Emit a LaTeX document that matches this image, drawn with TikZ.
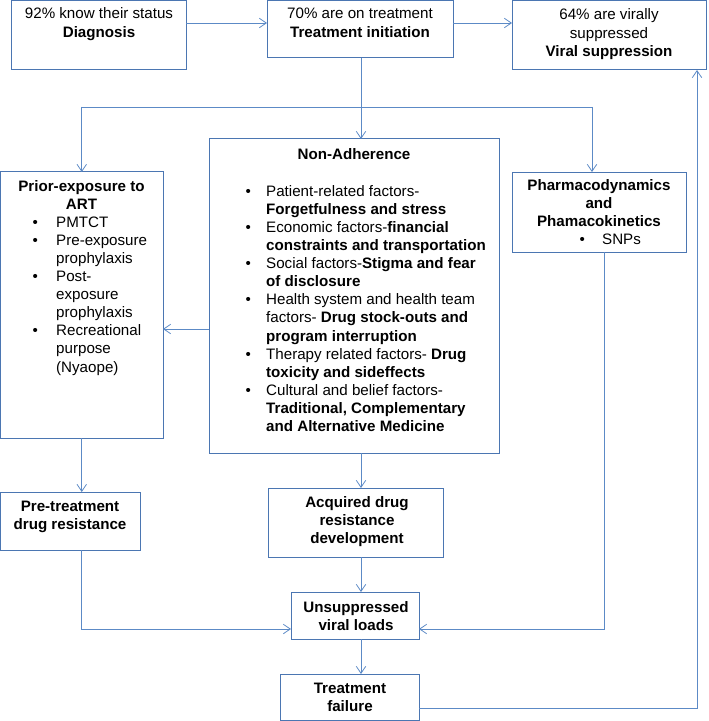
\documentclass[tikz,border=0pt]{standalone}
\usepackage{fontspec}
\setmainfont{Liberation Sans}
\usetikzlibrary{arrows.meta}
\definecolor{lb}{RGB}{92,138,198}
\definecolor{bb}{RGB}{75,118,178}
\newcommand{\bl}{\textbullet}
\begin{document}
\begin{tikzpicture}[x=1bp,y=-1bp,
  box/.style={draw=bb, line width=1bp, inner sep=0pt, outer sep=0pt, rectangle},
  txt/.style={font=\fontsize{15.2}{18.2}\selectfont, inner sep=0pt, anchor=base},
  ln/.style={draw=lb, line width=0.8bp},
  arr/.style={draw=lb, line width=0.8bp, -{Straight Barb[length=7bp,width=9.5bp]}}]
\useasboundingbox (0,0) rectangle (709,721);
% boxes
\node[box, minimum width=174bp, minimum height=69.5bp] (diag) at (99,35.25) {};
\node[box, minimum width=186bp, minimum height=57.5bp] (treat) at (360,29.25) {};
\node[box, minimum width=194bp, minimum height=69.5bp] (viral) at (609,35.25) {};
\node[box, minimum width=162.5bp, minimum height=266bp] (prior) at (81.75,305) {};
\node[box, minimum width=290bp, minimum height=314bp] (nonadh) at (354,296) {};
\node[box, minimum width=174bp, minimum height=80bp] (pharma) at (599,212) {};
\node[box, minimum width=139.5bp, minimum height=58bp] (pretreat) at (70.25,521) {};
\node[box, minimum width=175bp, minimum height=69bp] (acq) at (355.5,522.5) {};
\node[box, minimum width=128bp, minimum height=47bp] (unsup) at (355,615.5) {};
\node[box, minimum width=139bp, minimum height=46bp] (fail) at (349.5,697) {};
% texts
\node[txt] (tdiag) at (99,19) {\begin{tabular}[t]{@{}c@{}}92\% know their status\\\textbf{Diagnosis}\end{tabular}};
\node[txt] (ttreat) at (360,19) {\begin{tabular}[t]{@{}c@{}}70\% are on treatment\\\textbf{Treatment initiation}\end{tabular}};
\node[txt] (tviral) at (609,20) {\begin{tabular}[t]{@{}c@{}}64\% are virally\\suppressed\\\textbf{Viral suppression}\end{tabular}};
\node[txt] (tprior) at (81.5,191) {\begin{tabular}[t]{@{}c@{}}\textbf{Prior-exposure to}\\\textbf{ART}\end{tabular}};
\node[txt, anchor=base west] (lprior) at (32.5,227) {\begin{tabular}[t]{@{}p{23.5bp}@{}l@{}}
\bl & PMTCT\\
\bl & Pre-exposure\\
 & prophylaxis\\
\bl & Post-\\
 & exposure\\
 & prophylaxis\\
\bl & Recreational\\
 & purpose\\
 & (Nyaope)
\end{tabular}};
\node[txt] (tnon) at (354,159) {\textbf{Non-Adherence}};
\node[txt, anchor=base west] (lnon) at (245.5,196) {\begin{tabular}[t]{@{}p{20.5bp}@{}l@{}}
\bl & Patient-related factors-\\
 & \textbf{Forgetfulness and stress}\\
\bl & Economic factors-\textbf{financial}\\
 & \textbf{constraints and transportation}\\
\bl & Social factors-\textbf{Stigma and fear}\\
 & \textbf{of disclosure}\\
\bl & Health system and health team\\
 & factors- \textbf{Drug stock-outs and}\\
 & \textbf{program interruption}\\
\bl & Therapy related factors- \textbf{Drug}\\
 & \textbf{toxicity and sideffects}\\
\bl & Cultural and belief factors-\\
 & \textbf{Traditional, Complementary}\\
 & \textbf{and Alternative Medicine}
\end{tabular}};
\node[txt] (tpharma) at (599,190) {\begin{tabular}[t]{@{}c@{}}\textbf{Pharmacodynamics}\\\textbf{and}\\\textbf{Phamacokinetics}\end{tabular}};
\node[txt, anchor=base west] (lpharma) at (579.5,244.6) {\begin{tabular}[t]{@{}p{22.5bp}@{}l@{}}\bl & SNPs\end{tabular}};
\node[txt] (tpre) at (70,511) {\begin{tabular}[t]{@{}c@{}}\textbf{Pre-treatment}\\\textbf{drug resistance}\end{tabular}};
\node[txt] (tacq) at (357,507) {\begin{tabular}[t]{@{}c@{}}\textbf{Acquired drug}\\\textbf{resistance}\\\textbf{development}\end{tabular}};
\node[txt] (tuns) at (356,612) {\begin{tabular}[t]{@{}c@{}}\textbf{Unsuppressed}\\\textbf{viral loads}\end{tabular}};
\node[txt] (tfail) at (350,693) {\begin{tabular}[t]{@{}c@{}}\textbf{Treatment}\\\textbf{failure}\end{tabular}};
% helper coordinates
\coordinate (ya) at (0,23);
\coordinate (cx) at (361,0);
\coordinate (bus) at (0,107);
\coordinate (px) at (592,0);
\coordinate (yq) at (0,329);
\coordinate (yr) at (0,629);
\coordinate (qx) at (604,0);
\coordinate (ys) at (0,708);
\coordinate (rx) at (697,0);
% connectors
\draw[arr] (diag.east |- ya) -- (treat.west |- ya);
\draw[arr] (treat.east |- ya) -- (viral.west |- ya);
\draw[arr] (treat.south -| cx) -- (nonadh.north -| cx);
\draw[ln] (bus -| prior.north) -- (bus -| px);
\draw[arr] (bus -| prior.north) -- (prior.north);
\draw[arr] (bus -| px) -- (pharma.north -| px);
\draw[arr] (nonadh.west |- yq) -- (prior.east |- yq);
\draw[arr] (prior.south) -- (pretreat.north -| prior.south);
\draw[arr] (nonadh.south -| cx) -- (acq.north -| cx);
\draw[arr] (acq.south -| cx) -- (unsup.north -| cx);
\draw[arr] (unsup.south -| cx) -- (fail.north -| cx);
\draw[arr] (pretreat.south -| prior.south) |- (unsup.west |- yr);
\draw[arr] (pharma.south -| qx) |- (unsup.east |- yr);
\draw[arr] (fail.east |- ys) -| (viral.south -| rx);
\end{tikzpicture}
\end{document}
